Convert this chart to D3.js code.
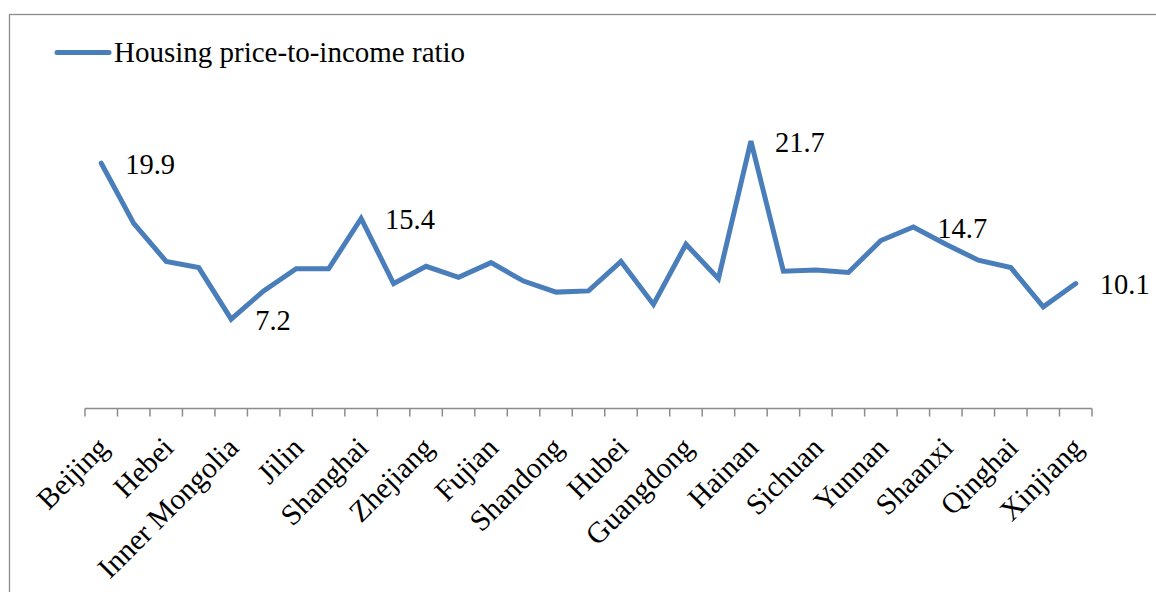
<!DOCTYPE html>
<html>
<head>
<meta charset="utf-8">
<script src="https://cdn.jsdelivr.net/npm/d3@7/dist/d3.min.js"></script>
<style>
  html, body { margin: 0; padding: 0; background: #fff; }
  svg { display: block; }
  text { font-family: "Liberation Serif", "Times New Roman", serif; fill: #000; }
</style>
</head>
<body>
<svg id="chart" width="1156" height="592"></svg>
<script>
// ---- data ----
const provinces = ["Beijing","Tianjin","Hebei","Shanxi","Inner Mongolia","Liaoning","Jilin","Heilongjiang",
  "Shanghai","Jiangsu","Zhejiang","Anhui","Fujian","Jiangxi","Shandong","Henan","Hubei","Hunan",
  "Guangdong","Guangxi","Hainan","Chongqing","Sichuan","Guizhou","Yunnan","Tibet","Shaanxi","Gansu",
  "Qinghai","Ningxia","Xinjiang"];
const ratio = [19.9, 15.0, 11.9, 11.4, 7.2, 9.5, 11.3, 11.3,
  15.4, 10.1, 11.5, 10.6, 11.8, 10.3, 9.4, 9.5, 11.9, 8.4,
  13.3, 10.5, 21.7, 11.1, 11.2, 11.0, 13.6, 14.7, 13.3, 12.0,
  11.4, 8.2, 10.1];
const labelledProvinces = ["Beijing","Inner Mongolia","Shanghai","Hainan","Tibet","Xinjiang"];
const seriesName = "Housing price-to-income ratio";

// ---- layout ----
const svg = d3.select("#chart");
const lineColor = "#4a7ebb";
const axisColor = "#8c8c8c";

const x = d3.scaleBand().domain(provinces).range([85, 1092]).padding(0);
const y = d3.scaleLinear().domain([0, 25]).range([407.5, 407.5 - 25 * 12.275]);

// outer frame (extends beyond the visible window on right and bottom)
svg.append("rect")
  .attr("x", 9.5).attr("y", 14.5)
  .attr("width", 1300).attr("height", 700)
  .attr("fill", "none").attr("stroke", axisColor).attr("stroke-width", 1.3);

// x axis
const axisY = Math.round(y(0)) + 0.5;
const g = svg.append("g");
g.append("line")
  .attr("x1", x.range()[0]).attr("x2", x.range()[1])
  .attr("y1", axisY).attr("y2", axisY)
  .attr("stroke", axisColor).attr("stroke-width", 1.5);

const boundaries = provinces.map(p => x(p)).concat([x.range()[1]]);
g.selectAll("line.tick").data(boundaries).enter().append("line")
  .attr("class", "tick")
  .attr("x1", d => d).attr("x2", d => d)
  .attr("y1", axisY).attr("y2", axisY + 8)
  .attr("stroke", axisColor).attr("stroke-width", 1.5);

g.selectAll("text.cat").data(provinces.filter((p, i) => i % 2 === 0)).enter().append("text")
  .attr("class", "cat")
  .attr("text-anchor", "end")
  .attr("font-size", 29.5)
  .attr("transform", d => `translate(${x(d) + x.bandwidth() / 2 + 9},${axisY + 41}) rotate(-45)`)
  .text(d => d);

// line
const line = d3.line()
  .x((d, i) => x(provinces[i]) + x.bandwidth() / 2)
  .y(d => y(d));

svg.append("path")
  .datum(ratio)
  .attr("d", line)
  .attr("fill", "none")
  .attr("stroke", lineColor)
  .attr("stroke-width", 5)
  .attr("stroke-linejoin", "miter")
  .attr("stroke-linecap", "round");

// data labels
svg.selectAll("text.dl").data(labelledProvinces).enter().append("text")
  .attr("class", "dl")
  .attr("font-size", 28.5)
  .attr("x", d => x(d) + x.bandwidth() / 2 + 24)
  .attr("y", d => y(ratio[provinces.indexOf(d)]) + 10.8)
  .text(d => ratio[provinces.indexOf(d)].toFixed(1));

// legend
const lg = svg.append("g");
lg.append("line")
  .attr("x1", 57).attr("x2", 109).attr("y1", 52.5).attr("y2", 52.5)
  .attr("stroke", lineColor).attr("stroke-width", 5).attr("stroke-linecap", "round");
lg.append("text")
  .attr("x", 114).attr("y", 62)
  .attr("font-size", 29)
  .text(seriesName);
</script>
</body>
</html>
